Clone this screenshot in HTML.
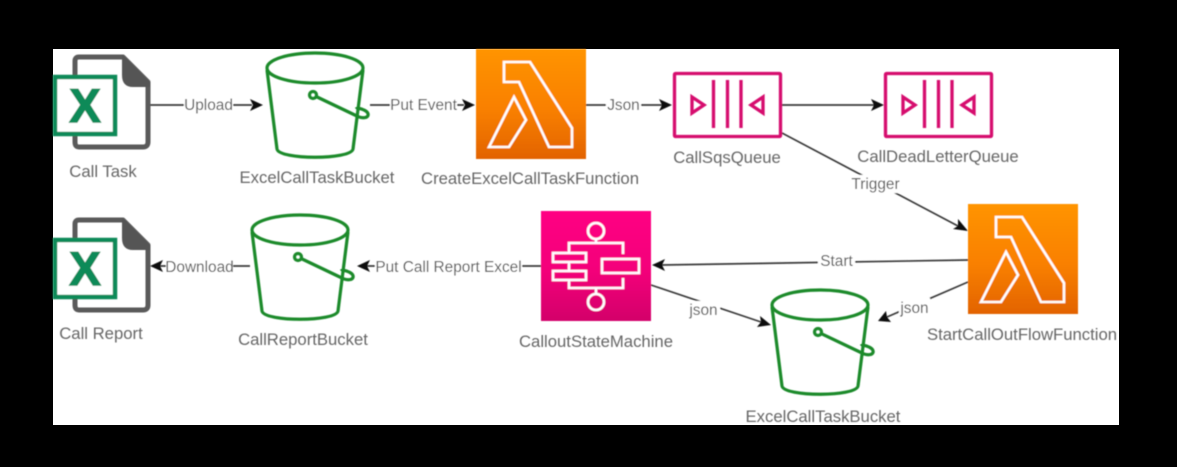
<!DOCTYPE html>
<html><head><meta charset="utf-8"><style>
html,body{margin:0;padding:0;background:#000;width:1177px;height:467px;overflow:hidden}
svg{display:block}
text{font-family:"Liberation Sans",sans-serif;font-size:16.7px;fill:#666;text-anchor:middle}
.e{fill:#555;font-size:15.4px}
.c{stroke:#3a3a3a;stroke-width:1.7;fill:none}
.b{fill:none;stroke:#1a8a2a;stroke-width:3.2;stroke-linejoin:round}
.q{fill:none;stroke:#d6086e;stroke-width:3.3}
</style></head><body>
<svg width="1177" height="467" viewBox="0 0 1177 467" xmlns="http://www.w3.org/2000/svg">
<defs>
<linearGradient id="o" x1="0" y1="0" x2="0" y2="1"><stop offset="0" stop-color="#ff9400"/><stop offset=".55" stop-color="#f98000"/><stop offset="1" stop-color="#e26304"/></linearGradient>
<linearGradient id="p" x1="0" y1="0" x2="0" y2="1"><stop offset="0" stop-color="#ff0483"/><stop offset=".55" stop-color="#f3037a"/><stop offset="1" stop-color="#d3056a"/></linearGradient>
<filter id="s" x="-5%" y="-5%" width="110%" height="110%"><feGaussianBlur stdDeviation="0.55"/></filter>
<g id="bucket">
<ellipse cx="0" cy="0" rx="48" ry="15" class="b"/>
<path class="b" d="M-48 2 L-38 81 C-36 92 36 92 38 81 L48 2"/>
<circle cx="-2" cy="27" r="3.5" class="b"/>
<path class="b" d="M0 28 L44 49 C54 52 56 45 49 42 C45 40 42 40 41 41"/>
</g>
<g id="lambda">
<rect width="110" height="110" fill="url(#o)"/>
<path d="M28 13H54L96 79V98H73L43 33H28Z" fill="none" stroke="#fff" stroke-width="2.6"/>
<path d="M38 48L50 71L33 98H13Z" fill="none" stroke="#fff" stroke-width="2.6"/>
</g>
<g id="sqs">
<rect x="1.500" y="1.500" width="106" height="63" class="q" rx="1"/>
<path class="q" d="M19 25L31 33L19 41Z"/>
<path class="q" d="M90 25L78 33L90 41Z"/>
<path class="q" d="M40.500 8V56M54.500 8V56M68 8V56"/>
</g>
<g id="excel">
<path d="M22 29V8Q22 4 26 4H70L95 29V89Q95 94 90 94H26Q22 94 22 89V80" fill="none" stroke="#5a5a5a" stroke-width="5" stroke-linejoin="round"/>
<path d="M69 2L97 30V34H80Q69 34 69 22Z" fill="#555"/>
<rect x="2" y="24" width="60" height="57" fill="#fff" stroke="#118a58" stroke-width="4.500"/>
<text x="32" y="69" style="font-size:47px;font-weight:bold;fill:#118a58;stroke:#118a58;stroke-width:1.5">X</text>
</g>
</defs>
<rect width="1177" height="467" fill="#000"/>
<rect x="53" y="49" width="1066" height="376" fill="#fff"/>
<g filter="url(#s)">
<!-- connectors -->
<g class="c">
<path d="M150 105H252"/>
<path d="M370 105H464"/>
<path d="M585 105H662"/>
<path d="M782 105H874"/>
<path d="M782 133L958 226"/>
<path d="M968 260L662 265"/>
<path d="M651 285L761 322"/>
<path d="M968 282L887 317"/>
<path d="M541 266H367"/>
<path d="M250 266H160"/>
</g>
<g fill="#111">
<path d="M263 105L250 99L253 105L250 111Z"/>
<path d="M475 105L462 99L465 105L462 111Z"/>
<path d="M672 105L659 99L662 105L659 111Z"/>
<path d="M884 105L871 99L874 105L871 111Z"/>
<path d="M968 231L953 229L958 226L958 219Z"/>
<path d="M652 265L665 259L662 265L665 271Z"/>
<path d="M771 325L757 327L761 322L760 316Z"/>
<path d="M878 321L891 322L887 317L886 311Z"/>
<path d="M357 266L370 260L367 266L370 272Z"/>
<path d="M150 266L163 260L160 266L163 272Z"/>
</g>
<!-- label backgrounds -->
<g fill="#fff">
<rect x="184" y="97" width="49" height="17"/>
<rect x="390" y="97" width="67" height="17"/>
<rect x="606" y="97" width="35" height="17"/>
<rect x="850" y="175" width="52" height="18"/>
<rect x="818" y="253" width="37" height="17"/>
<rect x="688" y="301" width="32" height="18"/>
<rect x="899" y="298" width="31" height="18"/>
<rect x="375" y="258" width="147" height="17"/>
<rect x="166" y="258" width="67" height="17"/>
</g>
<!-- icons -->
<use href="#excel" x="53" y="53"/>
<use href="#excel" x="53" y="216"/>
<use href="#bucket" x="315" y="68"/>
<use href="#bucket" x="300" y="230"/>
<use href="#bucket" x="820" y="305"/>
<use href="#lambda" x="476" y="49"/>
<use href="#lambda" x="968" y="204"/>
<use href="#sqs" x="673" y="72"/>
<use href="#sqs" x="884" y="72"/>
<g transform="translate(541 211)">
<rect width="110" height="110" fill="url(#p)"/>
<g fill="none" stroke="#fff" stroke-width="2.6">
<circle cx="55" cy="20" r="8"/>
<circle cx="55" cy="91" r="8"/>
<path d="M55 28V32M28 42V32H82V43M28 51V60M28 68V77H82V67M55 77V83"/>
<rect x="12" y="42" width="33" height="9"/>
<rect x="12" y="60" width="33" height="9"/>
<rect x="61" y="48" width="37" height="14"/>
</g>
</g>
<!-- edge labels -->
<text class="e" x="208.500" y="110">Upload</text>
<text class="e" x="423.500" y="110">Put Event</text>
<text class="e" x="623.500" y="110">Json</text>
<text class="e" x="875.500" y="189">Trigger</text>
<text class="e" x="836.500" y="266">Start</text>
<text class="e" x="703.500" y="315">json</text>
<text class="e" x="914.500" y="313">json</text>
<text class="e" x="448.500" y="272">Put Call Report Excel</text>
<text class="e" x="199.500" y="272">Download</text>
<!-- node labels -->
<text x="103" y="177">Call Task</text>
<text x="317" y="183">ExcelCallTaskBucket</text>
<text x="530" y="184">CreateExcelCallTaskFunction</text>
<text x="727" y="163">CallSqsQueue</text>
<text x="938" y="162">CallDeadLetterQueue</text>
<text x="1022" y="340">StartCallOutFlowFunction</text>
<text x="101" y="339">Call Report</text>
<text x="303" y="345">CallReportBucket</text>
<text x="596" y="347">CalloutStateMachine</text>
<text x="823" y="422">ExcelCallTaskBucket</text>
</g>
</svg>
</body></html>
